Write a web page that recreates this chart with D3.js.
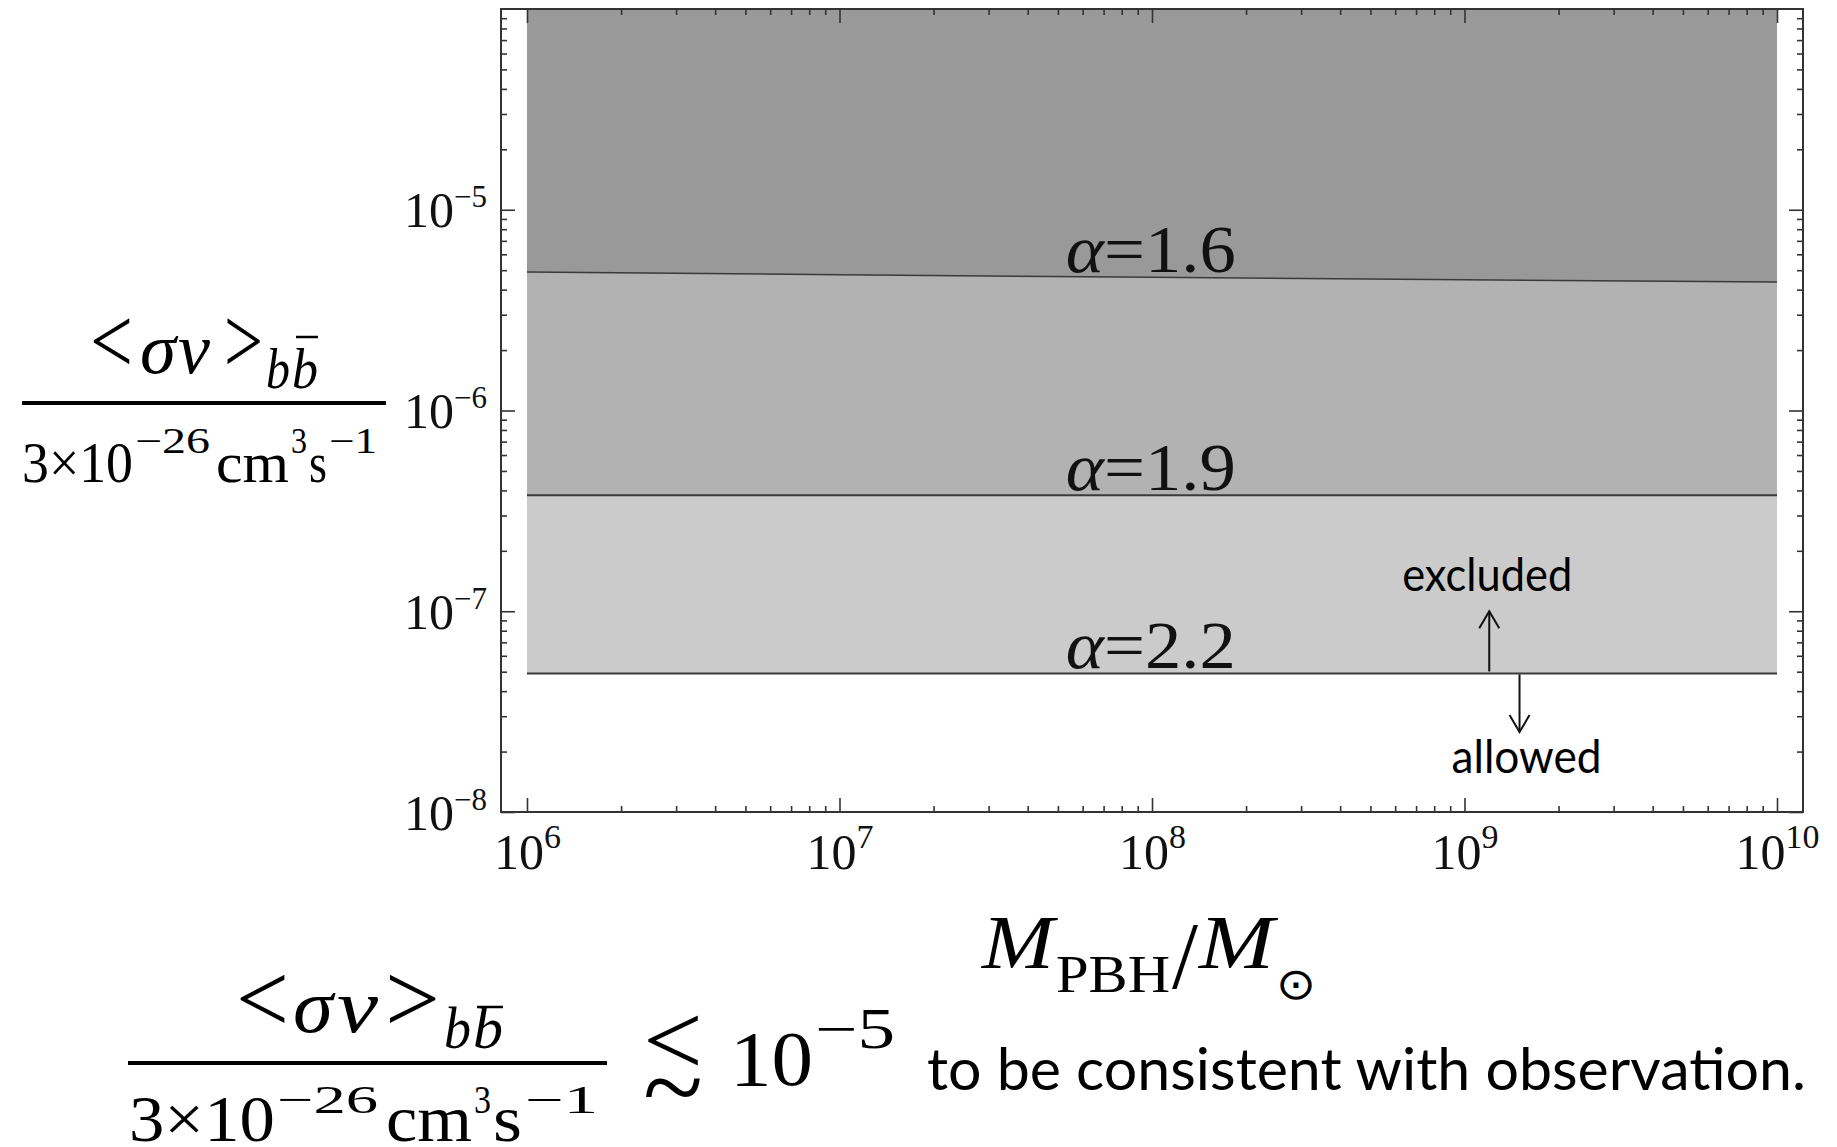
<!DOCTYPE html>
<html>
<head>
<meta charset="utf-8">
<script src="https://cdn.jsdelivr.net/npm/d3@7"></script>
<style>
  body { margin: 0; background: #fff; }
  svg { display: block; }
  .serif { font-family: "Liberation Serif", "Times New Roman", serif; }
  .sans { font-family: Lato, "Open Sans", sans-serif; }
  .sym { font-family: "DejaVu Sans", sans-serif; }
</style>
</head>
<body>
<svg id="chart" width="1837" height="1147"></svg>
<script>
// values
const masses = [1e6, 1e7, 1e8, 1e9, 1e10];
const alpha16 = [4.89e-6, 4.75e-6, 4.61e-6, 4.48e-6, 4.36e-6];
const alpha19 = [3.78e-7, 3.78e-7, 3.78e-7, 3.78e-7, 3.78e-7];
const alpha22 = [4.9e-8, 4.9e-8, 4.9e-8, 4.9e-8, 4.9e-8];
const alphas = ["1.6", "1.9", "2.2"];
const bandColors = ["#999999", "#b2b2b2", "#cbcbcb"];
const xTickExps = [6, 7, 8, 9, 10];
const yTickExps = [-8, -7, -6, -5];
const yBottom = 1e-8, yTop = 1e-4;

const W = 1837, H = 1147;
const frame = {left: 501, right: 1803, top: 9, bottom: 812};

const svg = d3.select("#chart");
svg.append("rect").attr("width", W).attr("height", H).attr("fill", "#fff");

const x = d3.scaleLog().domain([masses[0], masses[masses.length - 1]]).range([527, 1777]);
const y = d3.scaleLog().domain([yBottom, yTop]).range([frame.bottom, frame.top]);

const series = [alpha16, alpha19, alpha22];
const rows = masses.map((m, i) => ({m, a16: alpha16[i], a19: alpha19[i], a22: alpha22[i]}));

// log-log interpolation, only used to place labels / arrows on a curve
function logInterp(m, vals) {
  let i = 0;
  while (i < masses.length - 2 && m > masses[i + 1]) i++;
  const t = (Math.log10(m) - Math.log10(masses[i])) / (Math.log10(masses[i + 1]) - Math.log10(masses[i]));
  return Math.pow(10, Math.log10(vals[i]) + t * (Math.log10(vals[i + 1]) - Math.log10(vals[i])));
}

// shaded bands
const bands = [
  {lo: d => d.a16, hi: () => yTop, fill: bandColors[0]},
  {lo: d => d.a19, hi: d => d.a16, fill: bandColors[1]},
  {lo: d => d.a22, hi: d => d.a19, fill: bandColors[2]}
];
const plot = svg.append("g");
bands.forEach(b => {
  plot.append("path")
    .datum(rows)
    .attr("d", d3.area().x(d => x(d.m)).y0(d => y(b.lo(d))).y1(d => y(b.hi(d))))
    .attr("fill", b.fill);
});

// boundary lines
series.forEach((s, k) => {
  plot.append("path")
    .datum(masses)
    .attr("d", d3.line().x(m => x(m)).y((m, i) => y(s[i])))
    .attr("fill", "none")
    .attr("stroke", "#3a3a3a")
    .attr("stroke-width", k === 0 ? 1.5 : 2);
});

// frame
svg.append("rect")
  .attr("x", frame.left).attr("y", frame.top)
  .attr("width", frame.right - frame.left).attr("height", frame.bottom - frame.top)
  .attr("fill", "none").attr("stroke", "#333").attr("stroke-width", 2);

// ticks
const isMajor = v => Math.abs(Math.log10(v) - Math.round(Math.log10(v))) < 1e-9;
const xMajor = xTickExps.map(e => +("1e" + e));
const yMajor = yTickExps.map(e => +("1e" + e));
const xMinor = x.ticks().filter(v => !isMajor(v));
const yMinor = y.ticks().filter(v => !isMajor(v));

function tickAxis(axisFn, scale, values, size, transform) {
  const g = svg.append("g").attr("transform", transform).attr("color", "#333");
  g.call(axisFn(scale).tickValues(values).tickSize(-size).tickFormat(""));
  g.select(".domain").remove();
  g.selectAll(".tick line").attr("stroke-width", 1.6);
  return g;
}

const sides = [
  [d3.axisBottom, x, xMajor, xMinor, `translate(0,${frame.bottom})`],
  [d3.axisTop, x, xMajor, xMinor, `translate(0,${frame.top})`],
  [d3.axisLeft, y, yMajor, yMinor, `translate(${frame.left},0)`],
  [d3.axisRight, y, yMajor, yMinor, `translate(${frame.right},0)`]
];
const majorGroups = sides.map(([fn, sc, maj, min, tr]) => {
  tickAxis(fn, sc, min, 6, tr);
  return tickAxis(fn, sc, maj, 14, tr);
});

function powLabel(text, d, baseSize, supSize, supDy) {
  const e = Math.round(Math.log10(d));
  text.text(null).attr("class", "serif").attr("fill", "#111").attr("dy", null);
  text.append("tspan").attr("font-size", baseSize).text("10");
  text.append("tspan").attr("font-size", supSize).attr("dy", supDy).text(String(e).replace("-", "\u2212"));
}

majorGroups[0].selectAll(".tick text").each(function(d) {
  const t = d3.select(this).attr("y", 57);
  powLabel(t, d, 50, 34, -21);
});
majorGroups[1].selectAll(".tick text").remove();
majorGroups[3].selectAll(".tick text").remove();
majorGroups[2].selectAll(".tick text").each(function(d) {
  const t = d3.select(this).attr("x", -14).attr("y", 17);
  powLabel(t, d, 50, 31, -20);
});

// alpha labels on the curves
const labelMass = 5.3e7;
series.forEach((s, k) => {
  const t = svg.append("text").attr("class", "serif")
    .attr("x", x(labelMass)).attr("y", y(logInterp(labelMass, s)) - 5)
    .attr("font-size", 68).attr("fill", "#111")
    .attr("textLength", 170).attr("lengthAdjust", "spacingAndGlyphs");
  t.append("tspan").attr("font-style", "italic").text("\u03b1");
  t.append("tspan").text("=" + alphas[k]);
});

// excluded / allowed arrows
function arrow(ax, y0, y1) {
  const dir = y1 < y0 ? 1 : -1;
  const g = svg.append("g").attr("stroke", "#111").attr("stroke-width", 2).attr("fill", "none");
  g.append("line").attr("x1", ax).attr("x2", ax).attr("y1", y0).attr("y2", y1);
  g.append("polyline").attr("points", [[ax - 10, y1 + dir * 17], [ax, y1], [ax + 10, y1 + dir * 17]].join(" "));
}
const exclM = 1.2e9, allowM = 1.5e9;
const exclTop = y(1e-7), allowBot = y(2.5e-8);
arrow(x(exclM), y(logInterp(exclM, alpha22)) - 2, exclTop);
arrow(x(allowM), y(logInterp(allowM, alpha22)) + 1, allowBot);
svg.append("text").attr("class", "sans").attr("font-size", 46).attr("fill", "#000")
  .attr("x", x(exclM) - 87).attr("y", exclTop - 20)
  .attr("textLength", 170).attr("lengthAdjust", "spacingAndGlyphs").text("excluded");
svg.append("text").attr("class", "sans").attr("font-size", 46).attr("fill", "#000")
  .attr("x", x(allowM) - 68).attr("y", allowBot + 41)
  .attr("textLength", 150).attr("lengthAdjust", "spacingAndGlyphs").text("allowed");

// math text pieces
function seg(str, x0, x1, base, size, opts = {}) {
  return svg.append("text")
    .attr("class", opts.cls || "serif")
    .attr("x", x0).attr("y", base)
    .attr("font-size", size)
    .attr("font-style", opts.italic ? "italic" : null)
    .attr("fill", "#000")
    .attr("textLength", x1 - x0).attr("lengthAdjust", "spacingAndGlyphs")
    .text(str);
}
function bar(x0, x1, yy, w) {
  svg.append("line").attr("x1", x0).attr("x2", x1).attr("y1", yy).attr("y2", yy)
    .attr("stroke", "#000").attr("stroke-width", w);
}

// x axis title  M_PBH / M_sun
seg("M", 982, 1054, 968, 76, {italic: true});
seg("PBH", 1056, 1170, 992, 52);
seg("/", 1172, 1198, 988, 96);
seg("M", 1199, 1274, 968, 76, {italic: true});
seg("\u2299", 1276, 1316, 999, 44, {cls: "sym"});

// y axis title fraction
seg("<", 90, 133, 373, 96);
seg("\u03c3", 140, 176, 373, 72, {italic: true});
seg("v", 178, 210, 373, 72, {italic: true});
seg(">", 224, 263, 373, 96);
seg("b", 266, 290, 388, 58, {italic: true});
seg("b", 292, 318, 388, 58, {italic: true});
bar(296, 318, 337, 2.5);
bar(22, 386, 403, 4);
seg("3\u00d710", 22, 133, 482, 58);
seg("\u221226", 135, 210, 453, 36);
seg("cm", 216, 289, 482, 58);
seg("3", 291, 307, 453, 36);
seg("s", 309, 327, 482, 58);
seg("\u22121", 329, 377, 453, 36);

// bottom statement
seg("<", 236, 289, 1032, 100);
seg("\u03c3", 293, 333, 1032, 76, {italic: true});
seg("v", 337, 378, 1032, 76, {italic: true});
seg(">", 385, 440, 1032, 100);
seg("b", 444, 471, 1048, 60, {italic: true});
seg("b", 473, 503, 1048, 60, {italic: true});
bar(477, 503, 1007, 2.5);
bar(128, 607, 1063, 4);
seg("3\u00d710", 129, 275, 1141, 66);
seg("\u221226", 277, 378, 1113, 40);
seg("cm", 386, 472, 1141, 66);
seg("3", 474, 491, 1113, 40);
seg("s", 493, 522, 1141, 66);
seg("\u22121", 525, 598, 1113, 40);
// lesssim built from a less-than over a tilde
seg("<", 643, 703, 1075, 104);
seg("~", 643, 703, 1124, 110);
seg("10", 730, 813, 1085, 78);
seg("\u22125", 815, 895, 1048, 56);
seg("to be consistent with observation.", 927, 1806, 1090, 58, {cls: "sans"});
</script>
</body>
</html>
